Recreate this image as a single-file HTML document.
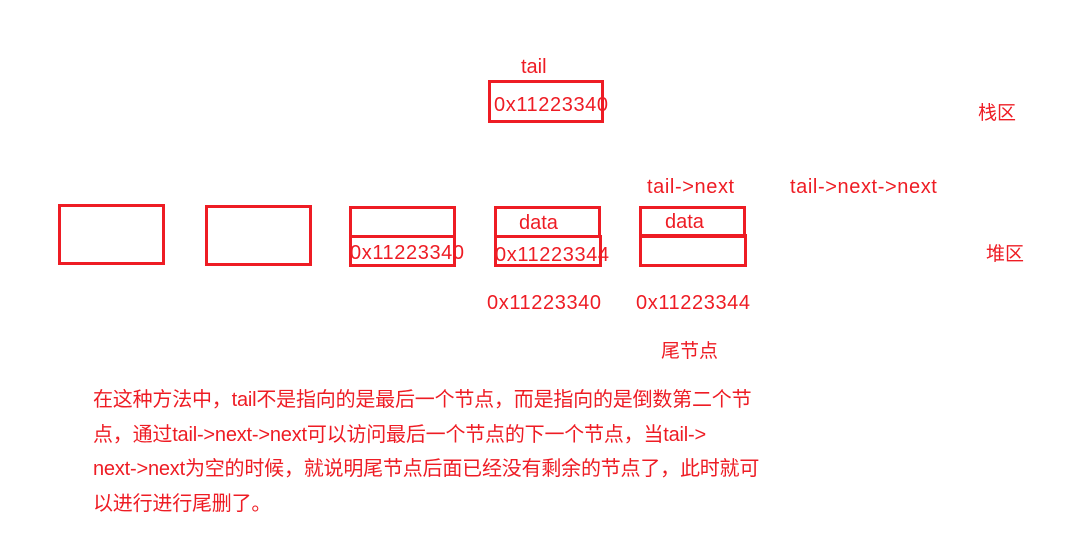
<!DOCTYPE html>
<html><head><meta charset="utf-8"><style>
body{margin:0;width:1086px;height:552px;background:#fff;position:relative;overflow:hidden;font-family:"Liberation Sans","Noto Sans CJK SC",sans-serif;color:#ee1c24}
.t{position:absolute;font-size:20px;white-space:nowrap;line-height:1}
.b{position:absolute;border:3px solid #ee1c24;box-sizing:border-box}
.m{letter-spacing:0.6px}
.p{letter-spacing:-0.2px}
</style></head><body>
<div class="t" style="left:521px;top:57px">tail</div>
<div class="b" style="left:488px;top:80px;width:116px;height:43px"></div>
<div class="t m" style="left:494px;top:95px">0x11223340</div>
<div class="t" style="left:978px;top:104px;font-size:19px">栈区</div>
<div class="t" style="left:986px;top:245px;font-size:19px">堆区</div>
<div class="t" style="left:647px;top:177px;letter-spacing:0.6px">tail-&gt;next</div>
<div class="t" style="left:790px;top:177px;letter-spacing:0.6px">tail-&gt;next-&gt;next</div>

<div class="b" style="left:58px;top:204px;width:107px;height:61px"></div>
<div class="b" style="left:205px;top:205px;width:107px;height:61px"></div>

<div class="b" style="left:349px;top:206px;width:107px;height:32px"></div>
<div class="b" style="left:349px;top:235px;width:107px;height:32px"></div>
<div class="t m" style="left:350px;top:243px">0x11223340</div>

<div class="b" style="left:494px;top:206px;width:107px;height:32px"></div>
<div class="b" style="left:494px;top:235px;width:108px;height:32px"></div>
<div class="t" style="left:519px;top:213px">data</div>
<div class="t m" style="left:495px;top:245px">0x11223344</div>

<div class="b" style="left:639px;top:206px;width:107px;height:32px"></div>
<div class="b" style="left:639px;top:234px;width:108px;height:33px"></div>
<div class="t" style="left:665px;top:212px">data</div>

<div class="t m" style="left:487px;top:293px">0x11223340</div>
<div class="t m" style="left:636px;top:293px">0x11223344</div>
<div class="t" style="left:661px;top:342px;font-size:19px">尾节点</div>

<div class="t p" style="left:93px;top:390px">在这种方法中，tail不是指向的是最后一个节点，而是指向的是倒数第二个节</div>
<div class="t p" style="left:93px;top:425px">点，通过tail-&gt;next-&gt;next可以访问最后一个节点的下一个节点，当tail-&gt;</div>
<div class="t p" style="left:93px;top:459px">next-&gt;next为空的时候，就说明尾节点后面已经没有剩余的节点了，此时就可</div>
<div class="t p" style="left:93px;top:494px">以进行进行尾删了。</div>
</body></html>
